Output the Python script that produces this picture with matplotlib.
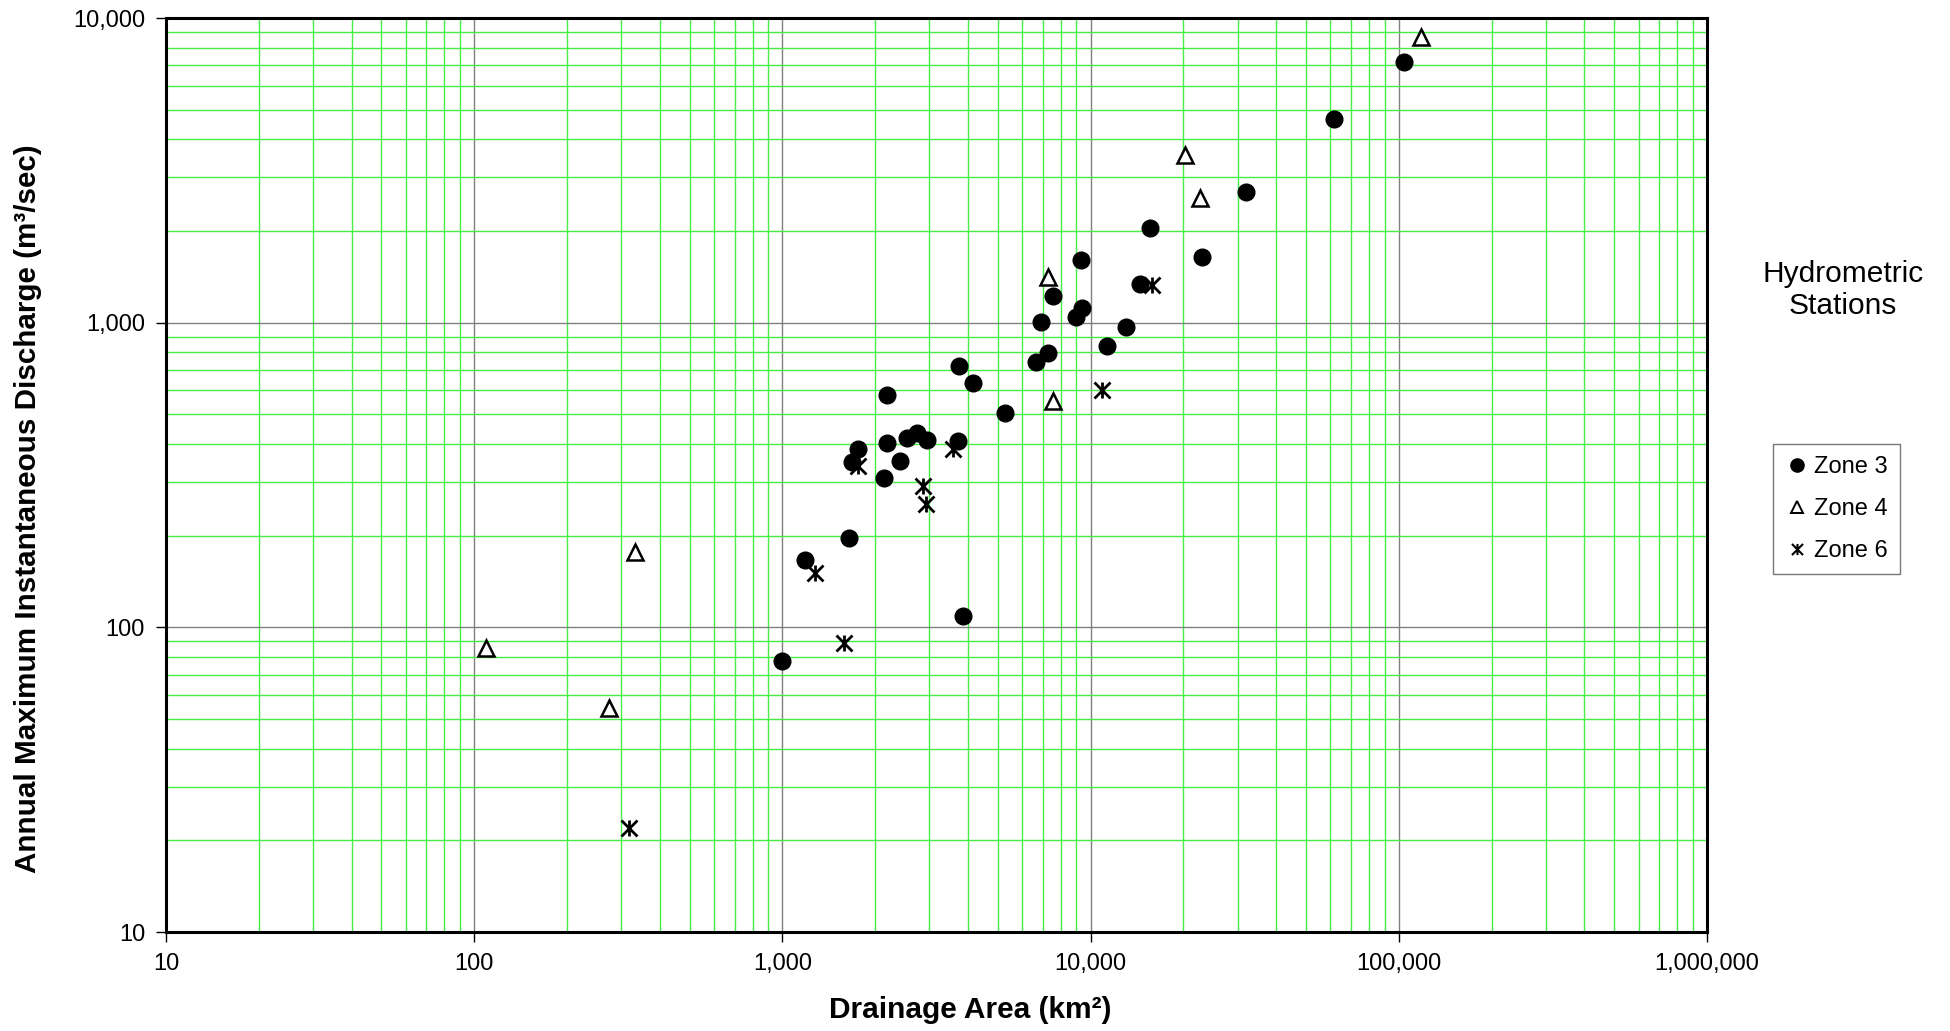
import matplotlib
matplotlib.use("Agg")
import matplotlib.pyplot as plt
from matplotlib.path import Path
from matplotlib.ticker import LogLocator, FuncFormatter, NullFormatter
from matplotlib.lines import Line2D

plt.rcParams['font.family'] = ['Liberation Sans', 'DejaVu Sans']

# drainage area (km2) / annual max instantaneous discharge (m3/s)
zone3_area = [1000, 1186, 1644, 3865, 2138, 1678, 2410, 1753, 2180, 2530, 2727,
              2940, 3724, 2188, 3750, 4140, 5275, 6630, 7290, 6890, 8980, 9360,
              7570, 9290, 14450, 13000, 11270, 15600, 22900, 31840, 61400, 104000]
zone3_q = [77.6, 166, 196, 109, 310, 349, 351, 384, 404, 417, 433,
           412, 408, 578, 723, 632, 504, 743, 798, 1002, 1045, 1114,
           1225, 1604, 1336, 970, 840, 2047, 1637, 2690, 4660, 7160]

zone4_area = [109, 274, 333, 7290, 7540, 20200, 22650, 117800]
zone4_q = [85.3, 54.2, 177, 1416, 554, 3550, 2570, 8670]

zone6_area = [319, 1276, 1585, 1762, 2865, 2917, 3590, 10860, 15800]
zone6_q = [21.9, 151, 89.0, 339, 292, 254, 386, 601, 1328]

# excel-style star: an x with a vertical bar through it
star = Path([(-1, -1), (1, 1), (-1, 1), (1, -1), (0, -1), (0, 1)],
            [Path.MOVETO, Path.LINETO, Path.MOVETO, Path.LINETO, Path.MOVETO, Path.LINETO])

fig = plt.figure(figsize=(19.5, 10.31), dpi=100)
ax = fig.add_axes([0.0851, 0.0960, 0.8754 - 0.0851, 0.9825 - 0.0960])

ax.plot(zone3_area, zone3_q, 'o', ls='none', ms=12, color='black', zorder=5)
ax.plot(zone4_area, zone4_q, '^', ls='none', ms=11.5, mfc='white', mec='black',
        mew=1.8, zorder=5)
ax.plot(zone6_area, zone6_q, marker=star, ls='none', ms=11.5, mfc='none', mec='black',
        mew=2.0, zorder=5)

ax.set_xscale('log')
ax.set_yscale('log')
ax.set_xlim(10, 1e6)
ax.set_ylim(10, 1e4)

fmt = FuncFormatter(lambda v, p: f'{v:,.0f}')
for axis in (ax.xaxis, ax.yaxis):
    axis.set_major_locator(LogLocator(base=10))
    axis.set_minor_locator(LogLocator(base=10, subs=range(2, 10)))
    axis.set_major_formatter(fmt)
    axis.set_minor_formatter(NullFormatter())

ax.grid(which='minor', color='#44ee44', lw=1.0)
ax.grid(which='major', color='#808080', lw=1.0)
ax.set_axisbelow(True)

ax.tick_params(which='major', direction='out', length=7, width=1, labelsize=17, pad=8)
ax.tick_params(which='minor', length=0)
for s in ax.spines.values():
    s.set_linewidth(2.2)

ax.set_xlabel('Drainage Area (km²)', fontsize=21.5, fontweight='bold')
ax.xaxis.label.set_va('center')
ax.xaxis.set_label_coords(0.522, -0.0853)
ax.set_ylabel('Annual Maximum Instantaneous Discharge (m³/sec)', fontsize=21.3,
              fontweight='bold')
ax.yaxis.label.set_va('center')
ax.yaxis.set_label_coords(-0.0896, 0.4628)

fig.text(0.9451, 0.7187, 'Hydrometric\nStations', ha='center', va='center',
         fontsize=21.5, linespacing=1.2)

handles = [
    Line2D([], [], marker='o', ls='none', ms=9.5, color='black'),
    Line2D([], [], marker='^', ls='none', ms=8.5, mfc='white', mec='black', mew=1.4),
    Line2D([], [], marker=star, ls='none', ms=8, mfc='none', mec='black', mew=1.5),
]
leg = fig.legend(handles, ['Zone 3', 'Zone 4', 'Zone 6'], loc='center',
                 bbox_to_anchor=(0.9418, 0.5063), fontsize=17, frameon=True,
                 fancybox=False, edgecolor='#555555', handlelength=1.0,
                 handletextpad=0.25, labelspacing=0.85, borderpad=0.5)
leg.get_frame().set_linewidth(1.0)

fig.savefig('out.png', dpi=100)
